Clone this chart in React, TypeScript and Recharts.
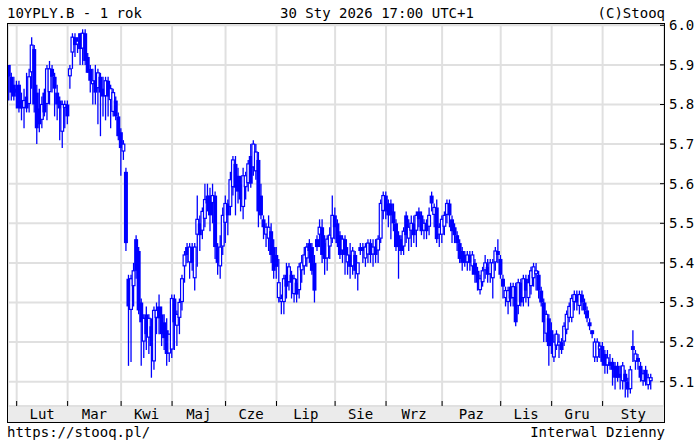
import React from 'react';
import { ComposedChart, Bar, XAxis, YAxis, CartesianGrid } from 'recharts';

// daily OHLC of 10YPLY.B, [open, high, low, close], one array per month
const jan25: number[][] = [
  [5.90, 5.90, 5.81, 5.87], [5.87, 5.88, 5.81, 5.83], [5.85, 5.87, 5.81, 5.82],
];
const feb25: number[][] = [
  [5.84, 5.86, 5.79, 5.83], [5.85, 5.86, 5.78, 5.79], [5.81, 5.83, 5.76, 5.79], [5.79, 5.84, 5.74, 5.81],
  [5.82, 5.88, 5.78, 5.79], [5.80, 5.89, 5.78, 5.87], [5.88, 5.97, 5.84, 5.95], [5.94, 5.95, 5.78, 5.80],
  [5.83, 5.85, 5.70, 5.74], [5.79, 5.84, 5.73, 5.75], [5.76, 5.82, 5.74, 5.80], [5.83, 5.84, 5.77, 5.78],
  [5.80, 5.90, 5.76, 5.89], [5.83, 5.91, 5.80, 5.89], [5.89, 5.90, 5.83, 5.87], [5.87, 5.88, 5.77, 5.84],
  [5.83, 5.85, 5.76, 5.80], [5.81, 5.82, 5.71, 5.79], [5.73, 5.81, 5.69, 5.80], [5.79, 5.81, 5.74, 5.80],
];
const mar25: number[][] = [
  [5.80, 5.81, 5.75, 5.77], [5.87, 5.90, 5.84, 5.89], [5.93, 5.98, 5.89, 5.97], [5.97, 5.98, 5.92, 5.95],
  [5.95, 5.97, 5.93, 5.96], [5.98, 5.98, 5.90, 5.94], [5.94, 5.99, 5.90, 5.98], [5.98, 5.99, 5.90, 5.91],
  [5.92, 5.93, 5.88, 5.88], [5.89, 5.90, 5.83, 5.86], [5.85, 5.89, 5.80, 5.86], [5.86, 5.90, 5.80, 5.83],
  [5.84, 5.89, 5.75, 5.88], [5.87, 5.88, 5.72, 5.83], [5.84, 5.87, 5.77, 5.82], [5.82, 5.87, 5.76, 5.86],
  [5.86, 5.87, 5.77, 5.82], [5.81, 5.85, 5.74, 5.84], [5.78, 5.84, 5.77, 5.83], [5.81, 5.82, 5.76, 5.77],
  [5.77, 5.78, 5.71, 5.72],
];
const apr25: number[][] = [
  [5.73, 5.74, 5.62, 5.69], [5.68, 5.71, 5.66, 5.70], [5.63, 5.64, 5.43, 5.45], [5.36, 5.37, 5.14, 5.29],
  [5.28, 5.37, 5.15, 5.36], [5.34, 5.40, 5.29, 5.38], [5.46, 5.47, 5.36, 5.38], [5.43, 5.44, 5.27, 5.28],
  [5.30, 5.31, 5.14, 5.25], [5.20, 5.27, 5.16, 5.26], [5.27, 5.29, 5.18, 5.22], [5.21, 5.27, 5.17, 5.26],
  [5.24, 5.26, 5.11, 5.19], [5.15, 5.29, 5.13, 5.28], [5.26, 5.30, 5.22, 5.28], [5.29, 5.32, 5.22, 5.26],
  [5.27, 5.29, 5.19, 5.22], [5.25, 5.27, 5.18, 5.21], [5.23, 5.26, 5.14, 5.17], [5.17, 5.22, 5.15, 5.22],
];
const may25: number[][] = [
  [5.18, 5.32, 5.16, 5.31], [5.31, 5.32, 5.18, 5.25], [5.24, 5.28, 5.19, 5.27], [5.26, 5.31, 5.22, 5.30],
  [5.30, 5.37, 5.28, 5.36], [5.39, 5.43, 5.35, 5.42], [5.44, 5.45, 5.40, 5.42], [5.40, 5.45, 5.36, 5.44],
  [5.44, 5.45, 5.38, 5.40], [5.36, 5.45, 5.33, 5.44], [5.47, 5.57, 5.39, 5.51], [5.50, 5.52, 5.43, 5.47],
  [5.48, 5.54, 5.46, 5.53], [5.51, 5.60, 5.49, 5.56], [5.57, 5.60, 5.53, 5.55], [5.57, 5.59, 5.48, 5.52],
  [5.55, 5.60, 5.50, 5.57], [5.57, 5.58, 5.41, 5.44], [5.44, 5.45, 5.37, 5.40], [5.39, 5.47, 5.36, 5.44],
  [5.44, 5.54, 5.42, 5.52],
];
const jun25: number[][] = [
  [5.50, 5.57, 5.45, 5.55], [5.55, 5.56, 5.47, 5.52], [5.54, 5.63, 5.52, 5.61], [5.59, 5.67, 5.57, 5.66],
  [5.65, 5.67, 5.52, 5.59], [5.62, 5.64, 5.55, 5.58], [5.60, 5.62, 5.53, 5.56], [5.54, 5.64, 5.51, 5.62],
  [5.59, 5.63, 5.56, 5.62], [5.60, 5.66, 5.58, 5.65], [5.67, 5.70, 5.59, 5.60], [5.64, 5.71, 5.62, 5.70],
  [5.63, 5.70, 5.61, 5.68], [5.66, 5.68, 5.49, 5.53], [5.57, 5.60, 5.51, 5.52], [5.51, 5.52, 5.46, 5.49],
  [5.47, 5.50, 5.44, 5.49], [5.46, 5.52, 5.43, 5.49], [5.48, 5.50, 5.40, 5.42], [5.44, 5.46, 5.36, 5.38],
];
const jul25: number[][] = [
  [5.42, 5.44, 5.36, 5.39], [5.31, 5.41, 5.30, 5.35], [5.30, 5.32, 5.27, 5.31], [5.30, 5.37, 5.27, 5.36],
  [5.37, 5.40, 5.31, 5.34], [5.35, 5.40, 5.33, 5.39], [5.37, 5.38, 5.31, 5.35], [5.32, 5.37, 5.30, 5.36],
  [5.35, 5.36, 5.30, 5.32], [5.33, 5.40, 5.31, 5.39], [5.38, 5.42, 5.35, 5.40], [5.39, 5.44, 5.37, 5.42],
  [5.41, 5.45, 5.39, 5.44], [5.45, 5.46, 5.40, 5.43], [5.44, 5.45, 5.37, 5.38], [5.40, 5.42, 5.30, 5.33],
  [5.46, 5.47, 5.43, 5.44], [5.47, 5.51, 5.44, 5.49], [5.49, 5.51, 5.40, 5.42], [5.45, 5.47, 5.37, 5.41],
  [5.41, 5.47, 5.38, 5.46], [5.44, 5.49, 5.41, 5.47], [5.46, 5.57, 5.45, 5.52],
];
const aug25: number[][] = [
  [5.52, 5.54, 5.46, 5.49], [5.50, 5.51, 5.44, 5.45], [5.47, 5.48, 5.41, 5.42], [5.43, 5.47, 5.40, 5.46],
  [5.46, 5.47, 5.37, 5.42], [5.40, 5.44, 5.37, 5.42], [5.42, 5.45, 5.36, 5.39], [5.39, 5.44, 5.37, 5.43],
  [5.42, 5.43, 5.36, 5.38], [5.37, 5.40, 5.33, 5.40], [5.44, 5.45, 5.42, 5.43], [5.44, 5.45, 5.40, 5.43],
  [5.41, 5.45, 5.39, 5.44], [5.42, 5.46, 5.40, 5.45], [5.45, 5.46, 5.40, 5.42], [5.42, 5.46, 5.39, 5.44],
  [5.44, 5.46, 5.40, 5.42], [5.43, 5.47, 5.40, 5.46], [5.46, 5.56, 5.45, 5.55], [5.53, 5.58, 5.51, 5.57],
];
const sep25: number[][] = [
  [5.57, 5.58, 5.51, 5.53], [5.55, 5.56, 5.49, 5.52], [5.55, 5.56, 5.46, 5.52], [5.53, 5.55, 5.48, 5.50],
  [5.50, 5.51, 5.43, 5.44], [5.47, 5.48, 5.36, 5.44], [5.46, 5.47, 5.42, 5.43], [5.44, 5.49, 5.42, 5.48],
  [5.52, 5.53, 5.45, 5.47], [5.46, 5.51, 5.43, 5.49], [5.48, 5.52, 5.44, 5.50], [5.50, 5.52, 5.45, 5.47],
  [5.48, 5.53, 5.44, 5.52], [5.53, 5.54, 5.49, 5.51], [5.52, 5.53, 5.47, 5.48], [5.48, 5.51, 5.46, 5.50],
  [5.50, 5.51, 5.46, 5.48], [5.49, 5.54, 5.47, 5.52], [5.57, 5.58, 5.53, 5.55], [5.52, 5.55, 5.49, 5.54],
  [5.54, 5.56, 5.45, 5.46], [5.47, 5.50, 5.44, 5.49],
];
const oct25: number[][] = [
  [5.47, 5.52, 5.45, 5.51], [5.49, 5.53, 5.47, 5.52], [5.52, 5.56, 5.50, 5.55], [5.55, 5.56, 5.49, 5.52],
  [5.51, 5.52, 5.45, 5.48], [5.49, 5.50, 5.45, 5.47], [5.47, 5.48, 5.43, 5.45], [5.45, 5.46, 5.40, 5.41],
  [5.43, 5.44, 5.38, 5.40], [5.42, 5.43, 5.39, 5.40], [5.40, 5.43, 5.38, 5.42], [5.42, 5.43, 5.38, 5.40],
  [5.39, 5.43, 5.37, 5.42], [5.40, 5.41, 5.35, 5.37], [5.38, 5.39, 5.33, 5.35], [5.33, 5.37, 5.32, 5.36],
  [5.35, 5.39, 5.34, 5.38], [5.38, 5.42, 5.36, 5.40], [5.39, 5.41, 5.35, 5.37], [5.37, 5.41, 5.35, 5.40],
  [5.36, 5.41, 5.31, 5.40], [5.40, 5.44, 5.38, 5.43], [5.43, 5.46, 5.40, 5.42],
];
const nov25: number[][] = [
  [5.41, 5.42, 5.36, 5.37], [5.36, 5.37, 5.31, 5.34], [5.31, 5.34, 5.29, 5.33], [5.30, 5.34, 5.27, 5.33],
  [5.34, 5.35, 5.29, 5.31], [5.31, 5.35, 5.29, 5.34], [5.34, 5.35, 5.24, 5.25], [5.29, 5.36, 5.27, 5.35],
  [5.35, 5.36, 5.29, 5.30], [5.31, 5.37, 5.29, 5.36], [5.36, 5.37, 5.30, 5.33], [5.31, 5.37, 5.29, 5.35],
  [5.34, 5.39, 5.32, 5.38], [5.36, 5.40, 5.34, 5.39], [5.37, 5.40, 5.33, 5.38], [5.37, 5.38, 5.31, 5.33],
  [5.33, 5.34, 5.29, 5.30], [5.30, 5.31, 5.20, 5.25], [5.22, 5.28, 5.20, 5.27], [5.26, 5.27, 5.14, 5.19],
];
const dec25: number[][] = [
  [5.23, 5.25, 5.17, 5.19], [5.16, 5.22, 5.15, 5.20], [5.19, 5.23, 5.18, 5.22], [5.19, 5.22, 5.16, 5.20],
  [5.20, 5.21, 5.17, 5.18], [5.20, 5.25, 5.19, 5.24], [5.23, 5.28, 5.22, 5.27], [5.26, 5.30, 5.25, 5.29],
  [5.26, 5.32, 5.25, 5.31], [5.30, 5.33, 5.28, 5.32], [5.32, 5.33, 5.28, 5.30], [5.29, 5.33, 5.27, 5.32],
  [5.32, 5.33, 5.28, 5.30], [5.30, 5.31, 5.27, 5.28], [5.28, 5.29, 5.25, 5.26], [5.25, 5.26, 5.23, 5.24],
  [5.23, 5.23, 5.21, 5.22], [5.16, 5.21, 5.15, 5.20], [5.16, 5.21, 5.15, 5.20], [5.18, 5.20, 5.16, 5.19],
];
const jan26: number[][] = [
  [5.19, 5.20, 5.14, 5.15], [5.17, 5.18, 5.12, 5.14], [5.14, 5.18, 5.12, 5.16], [5.15, 5.17, 5.13, 5.14],
  [5.15, 5.16, 5.09, 5.13], [5.14, 5.15, 5.08, 5.11], [5.14, 5.15, 5.10, 5.11], [5.12, 5.14, 5.08, 5.11],
  [5.10, 5.15, 5.08, 5.14], [5.12, 5.13, 5.06, 5.10], [5.10, 5.11, 5.06, 5.08], [5.08, 5.14, 5.07, 5.13],
  [5.19, 5.23, 5.15, 5.18], [5.15, 5.18, 5.13, 5.17], [5.16, 5.17, 5.13, 5.15], [5.14, 5.15, 5.10, 5.11],
  [5.10, 5.13, 5.09, 5.12], [5.13, 5.14, 5.09, 5.10], [5.09, 5.12, 5.08, 5.11], [5.10, 5.12, 5.08, 5.11],
];

const months = [jan25, feb25, mar25, apr25, may25, jun25, jul25, aug25, sep25, oct25, nov25, dec25, jan26];
const monthNames = ['Lut', 'Mar', 'Kwi', 'Maj', 'Cze', 'Lip', 'Sie', 'Wrz', 'Paz', 'Lis', 'Gru', 'Sty'];
const yTicks = [5.1, 5.2, 5.3, 5.4, 5.5, 5.6, 5.7, 5.8, 5.9, 6.0];

const X_MIN = -0.4;
const X_MAX = 257.1;
const Y_MIN = 5.0386;
const Y_MAX = 6.0033;

const data = months.flat().map((b, i) => ({ i, o: b[0], h: b[1], l: b[2], c: b[3] }));

// first bar of every labelled month (Feb 2025 .. Jan 2026)
const monthStarts: number[] = [];
let acc = 0;
months.forEach((m, k) => {
  if (k > 0) monthStarts.push(acc);
  acc += m.length;
});
const labelPos = monthStarts.map((s, k) => (s + (monthStarts[k + 1] ?? X_MAX)) / 2);
const bottomTicks = [...monthStarts, ...labelPos].sort((a, b) => a - b);

const FONT = '"DejaVu Sans Mono", monospace';
const BLUE = '#0000ff';

const Candle = (props: any) => {
  const { x, y, width, height, payload } = props;
  if (x == null || y == null) return null;
  const { o, h, l, c } = payload;
  const span = h - l || 1;
  const py = (v: number) => y + ((h - v) / span) * Math.abs(height);
  const cx = x + width / 2;
  const top = py(Math.max(o, c));
  const bh = Math.max(1.5, py(Math.min(o, c)) - top);
  const up = c >= o;
  return (
    <g>
      <line x1={cx} x2={cx} y1={py(h)} y2={py(l)} stroke={BLUE} strokeWidth={1.3} />
      {up ? (
        <rect x={cx - 1.4} y={top} width={2.8} height={Math.max(bh - 1, 1)} fill="#fff" stroke={BLUE} strokeWidth={1.2} />
      ) : (
        <rect x={cx - 2} y={top} width={4} height={bh} fill={BLUE} />
      )}
    </g>
  );
};

const MonthTick = (props: any) => {
  const { x, y, payload } = props;
  const k = labelPos.indexOf(payload.value);
  if (k < 0) {
    // small mark at the month boundary, pointing up into the plot
    return <line x1={x} x2={x} y1={y - 3} y2={y - 8} stroke="#000" />;
  }
  return (
    <text x={x} y={y} dy="0.71em" textAnchor="middle" fontFamily={FONT} fontSize={14} fill="#000">
      {monthNames[k]}
    </text>
  );
};

const App: React.FC = () => {
  return (
    <div style={{ position: 'absolute', left: 0, top: 0, width: 697, height: 441, background: '#fff' }}>
      {/* grey band under the month labels */}
      <div
        style={{
          position: 'absolute', left: 8, top: 406, width: 656, height: 16,
          background: '#ebebeb', borderTop: '1px solid #000', boxSizing: 'border-box',
        }}
      />
      <div style={{ position: 'absolute', left: 0, top: 0 }}>
        <ComposedChart width={697} height={441} data={data} margin={{ top: 24, right: 0, bottom: 19, left: 8 }}>
          <CartesianGrid xAxisId="m" yAxisId="r" stroke="#e0e0e0" strokeWidth={2} />
          <XAxis
            xAxisId="m" orientation="top" type="number" dataKey="i" height={0}
            domain={[X_MIN, X_MAX]} allowDataOverflow ticks={monthStarts} interval={0}
            tickFormatter={() => ''} tickSize={-4} axisLine={false} tickLine={{ stroke: '#000' }}
          />
          <XAxis
            xAxisId="lbl" orientation="bottom" type="number" dataKey="i" height={16}
            domain={[X_MIN, X_MAX]} allowDataOverflow ticks={bottomTicks} interval={0}
            tick={<MonthTick />} tickSize={0} tickMargin={3} axisLine={false} tickLine={false}
          />
          <YAxis
            yAxisId="r" orientation="right" type="number" width={33}
            domain={[Y_MIN, Y_MAX]} allowDataOverflow ticks={yTicks} interval={0}
            tickFormatter={(v: number) => v.toFixed(1)} tickSize={-4} tickMargin={9}
            axisLine={false} tickLine={{ stroke: '#000' }}
            tick={{ fontFamily: FONT, fontSize: 14, fill: '#000' }}
          />
          <YAxis
            yAxisId="l" orientation="left" type="number" width={0}
            domain={[Y_MIN, Y_MAX]} allowDataOverflow ticks={yTicks} interval={0}
            tickFormatter={() => ''} tickSize={-4} axisLine={false} tickLine={{ stroke: '#000' }}
          />
          <Bar
            xAxisId="m" yAxisId="r" dataKey={(d: any) => [d.l, d.h]} barSize={2}
            shape={<Candle />} isAnimationActive={false}
          />
        </ComposedChart>
      </div>
      <svg width={697} height={441} style={{ position: 'absolute', left: 0, top: 0, pointerEvents: 'none' }}>
        <g fontFamily={FONT} fontSize={14} fill="#000">
          <text x={7} y={18}>10YPLY.B - 1 rok</text>
          <text x={280} y={18}>30 Sty 2026 17:00 UTC+1</text>
          <text x={665} y={18} textAnchor="end">(C)Stooq</text>
          <text x={7} y={437}>https://stooq.pl/</text>
          <text x={665} y={437} textAnchor="end">Interwal Dzienny</text>
        </g>
      </svg>
      {/* chart frame */}
      <div
        style={{
          position: 'absolute', left: 7, top: 23, width: 658, height: 400,
          border: '1px solid #000', boxSizing: 'border-box', pointerEvents: 'none',
        }}
      />
    </div>
  );
};

export default App;
